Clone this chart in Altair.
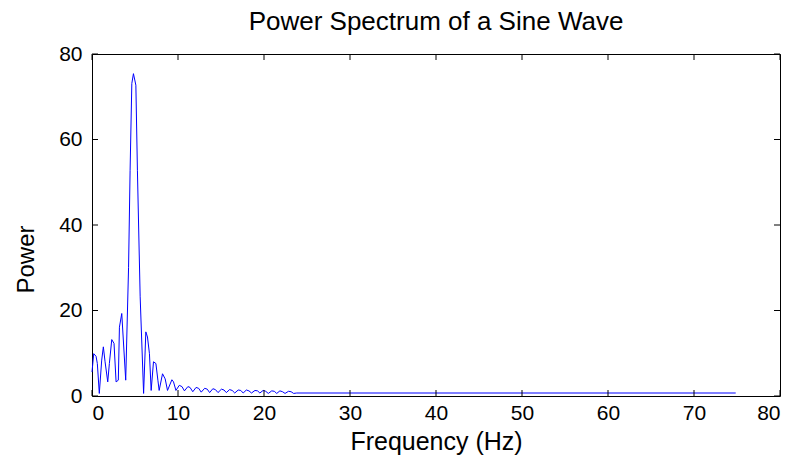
import altair as alt
import pandas as pd

# Vertices (Hz, power)
freq = [0.0, 0.2, 0.47, 0.62, 0.85, 1.13, 1.32, 1.52, 1.83, 2.02, 2.3, 2.56, 2.8, 3.06,
        3.19, 3.46, 3.92, 4.25, 4.43, 4.63, 4.82, 5.1, 5.28, 5.6, 6.0, 6.26, 6.45, 6.68,
        6.88, 7.15, 7.43, 7.66, 7.81, 8.2, 8.51, 8.78, 9.29, 9.48, 9.76, 10.15, 10.46,
        10.75, 11.15, 11.4, 11.72, 12.1, 12.4, 12.7, 13.1, 13.4, 13.68, 14.05, 14.35,
        14.65, 15.05, 15.35, 15.62, 16.0, 16.3, 16.6, 17.0, 17.3, 17.58, 17.95, 18.25,
        18.55, 18.95, 19.25, 19.52, 19.9, 20.2, 20.5, 20.9, 21.2, 21.48, 21.85, 22.15,
        22.45, 22.85, 23.15, 23.45, 23.8, 30.0, 40.0, 50.0, 60.0, 70.0, 74.85]
power = [5.6, 9.9, 9.3, 7.6, 0.6, 8.4, 11.5, 8.0, 3.3, 7.6, 13.2, 12.3, 3.3, 3.7,
         16.1, 19.3, 3.7, 30.0, 52.8, 73.1, 75.4, 72.7, 52.8, 23.2, 0.6, 15.0, 13.8, 9.9,
         1.3, 8.0, 7.6, 3.7, 1.3, 5.2, 4.0, 1.3, 3.8, 3.3, 1.3, 2.5, 2.2,
         1.2, 2.2, 2.0, 1.0, 2.0, 1.8, 0.9, 1.8, 1.6, 0.8, 1.7, 1.5,
         0.8, 1.6, 1.4, 0.8, 1.5, 1.3, 0.7, 1.4, 1.3, 0.7, 1.4, 1.2,
         0.7, 1.3, 1.2, 0.7, 1.3, 1.1, 0.6, 1.2, 1.1, 0.6, 1.2, 1.0,
         0.6, 1.1, 1.0, 0.6, 0.7, 0.7, 0.7, 0.7, 0.7, 0.7, 0.7]

x_ticks = [0, 10, 20, 30, 40, 50, 60, 70, 80]
y_ticks = [0, 20, 40, 60, 80]

W, H = 688, 342
FONT = "Liberation Sans"

df = pd.DataFrame({"f": freq, "p": power})
xt = pd.DataFrame({"t": x_ticks})
yt = pd.DataFrame({"t": y_ticks})

xscale = alt.Scale(domain=[0, 80], nice=False, zero=False)
yscale = alt.Scale(domain=[0, 80], nice=False, zero=False)
xaxis = alt.Axis(title="Frequency (Hz)", values=x_ticks, grid=False, ticks=False, domain=False,
                 labelPadding=6, labelFontSize=21, titleFontSize=25,
                 titleY=45, titleBaseline="middle", format="d")
yaxis = alt.Axis(title="Power", values=y_ticks, grid=False, ticks=False, domain=False,
                 labelPadding=10, labelFontSize=21, titleFontSize=24,
                 titleX=-66, titleY=205, titleBaseline="middle", format="d")

line = alt.Chart(df).mark_line(color="#0000FF", strokeWidth=1).encode(
    x=alt.X("f:Q", scale=xscale, axis=xaxis),
    y=alt.Y("p:Q", scale=yscale, axis=yaxis),
)

tl = 6
bot = alt.Chart(xt).mark_rule(color="black", strokeWidth=1).encode(
    x=alt.X("t:Q", scale=xscale, axis=xaxis), y=alt.value(H), y2=alt.value(H - tl))
top = alt.Chart(xt).mark_rule(color="black", strokeWidth=1).encode(
    x=alt.X("t:Q", scale=xscale, axis=xaxis), y=alt.value(0), y2=alt.value(tl))
left = alt.Chart(yt).mark_rule(color="black", strokeWidth=1).encode(
    y=alt.Y("t:Q", scale=yscale, axis=yaxis), x=alt.value(0), x2=alt.value(tl))
right = alt.Chart(yt).mark_rule(color="black", strokeWidth=1).encode(
    y=alt.Y("t:Q", scale=yscale, axis=yaxis), x=alt.value(W), x2=alt.value(W - tl))

chart = alt.layer(line, bot, top, left, right).properties(
    width=W, height=H,
    autosize=alt.AutoSizeParams(type="none"),
    padding={"left": 92, "top": 54, "right": 24, "bottom": 69},
    title=alt.TitleParams("Power Spectrum of a Sine Wave", font=FONT, fontSize=26,
                          fontWeight="normal", color="black", offset=8),
    background="white",
).configure_view(stroke="black", strokeWidth=1).configure_axis(
    labelFont=FONT, labelColor="black",
    titleFont=FONT, titleFontWeight="normal", titleColor="black",
)

chart.save("out.html", embed_options={"renderer": "svg", "actions": False})
